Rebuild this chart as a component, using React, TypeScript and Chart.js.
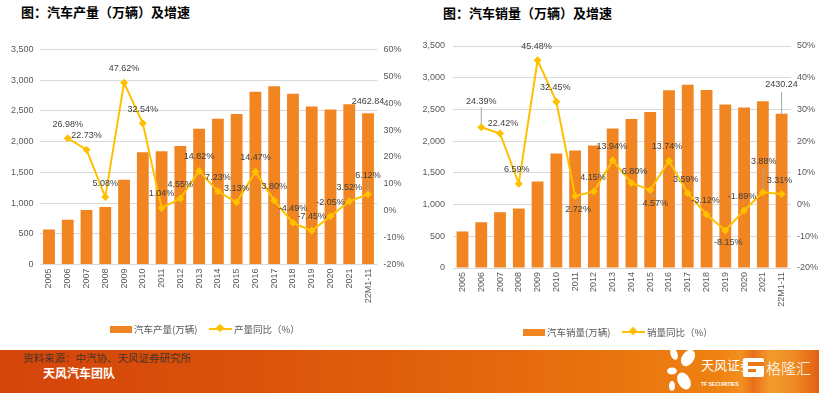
import React, { useEffect, useRef } from "react";
import { Chart, registerables } from "chart.js";

Chart.register(...registerables);

// ---------- data ----------
const categories = [
  "2005", "2006", "2007", "2008", "2009", "2010", "2011", "2012", "2013",
  "2014", "2015", "2016", "2017", "2018", "2019", "2020", "2021", "22M1-11",
];

const productionVolume = [
  570.77, 727.89, 888.89, 934.51, 1379.1, 1826.47, 1841.89, 1927.18, 2211.68,
  2372.29, 2450.33, 2811.88, 2901.54, 2780.92, 2572.07, 2522.52, 2608.2, 2462.84,
];
const productionGrowth = [
  null, 26.98, 22.73, 5.08, 47.62, 32.54, 1.04, 4.55, 14.82,
  7.23, 3.13, 14.47, 3.8, -4.49, -7.45, -2.05, 3.52, 6.12,
];

const salesVolume = [
  575.82, 721.6, 879.15, 938.05, 1364.48, 1806.19, 1850.51, 1930.64, 2198.41,
  2349.19, 2459.76, 2802.82, 2887.89, 2808.06, 2576.87, 2531.1, 2627.5, 2430.24,
];
const salesGrowth = [
  null, 24.39, 22.42, 6.59, 45.48, 32.45, 2.72, 4.15, 13.94,
  6.8, 4.57, 13.74, 3.59, -3.12, -8.15, -1.89, 3.88, 3.31,
];

const volumeTicks = { min: 0, max: 3500, step: 500 };
const productionPctTicks = { min: -20, max: 60, step: 10 };
const salesPctTicks = { min: -20, max: 50, step: 10 };

// label placement (pixel offsets from point) – presentation only
const productionLabelOffsets: [number, number][] = categories.map((_, i) =>
  i === 17 ? [0, -19] : [0, -14]
);
const productionLeaders = [17];
const salesLabelOffsets: [number, number][] = [
  [0, 0], [0, -26], [3, -10], [-2, -14], [-1, -14], [-1, -14], [3, 14], [-1, -14], [-1, -14],
  [3, -11], [5, 13], [-2, -14], [-2, -14], [-1, -14], [3, 12], [-2, -14], [1, -31], [-2, -14],
];
const salesLeaders = [1, 6, 10, 16];

const BAR_COLOR = "#F08522";
const LINE_COLOR = "#FFC000";
const TEXT_COLOR = "#595959";
const LABEL_COLOR = "#404040";
const GRID_COLOR = "#D9D9D9";
const NUM_FONT = "'Liberation Sans', Arial, sans-serif";
const CJK_FONT = "'Noto Sans CJK SC', 'Noto Sans', sans-serif";

const labelPlugin = {
  id: "valueLabels",
  afterDatasetsDraw(chart: any, _args: any, opts: any) {
    const { ctx } = chart;
    const barMeta = chart.getDatasetMeta(0);
    const lineMeta = chart.getDatasetMeta(1);
    ctx.save();
    ctx.font = `9px ${NUM_FONT}`;
    ctx.textAlign = "center";
    ctx.textBaseline = "middle";
    ctx.strokeStyle = "#A6A6A6";
    ctx.lineWidth = 1;
    (opts.growth as (number | null)[]).forEach((v, i) => {
      if (v == null) return;
      const pt = lineMeta.data[i];
      const [dx, dy] = opts.offsets[i];
      const lx = pt.x + dx;
      const ly = pt.y + dy;
      if (opts.leaders.includes(i)) {
        const s = dy < 0 ? 1 : -1;
        ctx.beginPath();
        ctx.moveTo(lx, ly + s * 6);
        ctx.lineTo(pt.x, pt.y - s * 3);
        ctx.stroke();
      }
      ctx.fillStyle = LABEL_COLOR;
      ctx.fillText(v.toFixed(2) + "%", lx, ly);
    });
    const last = opts.volume.length - 1;
    const bar = barMeta.data[last];
    const bx = bar.x;
    const by = bar.y + opts.barOffset;
    if (opts.barLeader) {
      ctx.beginPath();
      ctx.moveTo(bx, by + 7);
      ctx.lineTo(bx, bar.y);
      ctx.stroke();
    }
    ctx.fillStyle = LABEL_COLOR;
    ctx.fillText(opts.volume[last].toFixed(2), bx, by);
    ctx.restore();
  },
};

type ComboProps = {
  width: number;
  height: number;
  volume: number[];
  growth: (number | null)[];
  pct: { min: number; max: number; step: number };
  leftWidth: number;
  rightWidth: number;
  padTop: number;
  padBottom: number;
  leftTickPad: number;
  offsets: [number, number][];
  leaders: number[];
  barOffset: number;
  barLeader: boolean;
};

function ComboChart(p: ComboProps) {
  const ref = useRef<HTMLCanvasElement | null>(null);
  useEffect(() => {
    if (!ref.current) return;
    const tickFont = { family: NUM_FONT, size: 9 };
    const chart = new Chart(ref.current, {
      type: "bar",
      data: {
        labels: categories,
        datasets: [
          {
            type: "bar",
            data: p.volume,
            backgroundColor: BAR_COLOR,
            yAxisID: "y",
            order: 1,
            categoryPercentage: 1,
            barPercentage: 0.63,
          } as any,
          {
            type: "line",
            data: p.growth,
            borderColor: LINE_COLOR,
            backgroundColor: LINE_COLOR,
            borderWidth: 2,
            pointStyle: "rectRot",
            pointRadius: 4,
            pointBorderWidth: 0,
            yAxisID: "y1",
            order: 0,
            tension: 0,
          } as any,
        ],
      },
      options: {
        responsive: false,
        animation: false,
        devicePixelRatio: 1,
        layout: { padding: { top: p.padTop, bottom: p.padBottom, left: 0, right: 0 } },
        plugins: {
          legend: { display: false },
          tooltip: { enabled: false },
          valueLabels: {
            growth: p.growth,
            volume: p.volume,
            offsets: p.offsets,
            leaders: p.leaders,
            barOffset: p.barOffset,
            barLeader: p.barLeader,
          },
        } as any,
        scales: {
          x: {
            grid: { display: false, drawTicks: false },
            border: { display: false },
            ticks: {
              autoSkip: false,
              maxRotation: 90,
              minRotation: 90,
              padding: 4,
              color: TEXT_COLOR,
              font: tickFont,
            },
            afterFit: (s: any) => {
              s.height = 50;
            },
          },
          y: {
            position: "left",
            min: volumeTicks.min,
            max: volumeTicks.max,
            grid: { color: GRID_COLOR, drawTicks: false, lineWidth: 1 },
            border: { display: false },
            ticks: {
              stepSize: volumeTicks.step,
              padding: p.leftTickPad,
              color: TEXT_COLOR,
              font: tickFont,
              callback: (v: any) => Number(v).toLocaleString("en-US"),
            },
            afterFit: (s: any) => {
              s.width = p.leftWidth;
            },
          },
          y1: {
            position: "right",
            min: p.pct.min,
            max: p.pct.max,
            grid: { display: false, drawTicks: false },
            border: { display: false },
            ticks: {
              stepSize: p.pct.step,
              padding: 6,
              color: TEXT_COLOR,
              font: tickFont,
              callback: (v: any) => `${v}%`,
            },
            afterFit: (s: any) => {
              s.width = p.rightWidth;
            },
          },
        },
      } as any,
      plugins: [labelPlugin as any],
    });
    return () => chart.destroy();
  }, []);
  return (
    <canvas
      ref={ref}
      width={p.width}
      height={p.height}
      style={{ width: p.width, height: p.height, display: "block" }}
    />
  );
}

const abs = (l: number, t: number, extra: React.CSSProperties = {}): React.CSSProperties => ({
  position: "absolute",
  left: l,
  top: t,
  whiteSpace: "nowrap",
  ...extra,
});

function Legend({ x, y, barText, lineText }: { x: number; y: number; barText: string; lineText: string }) {
  const textStyle: React.CSSProperties = {
    fontFamily: CJK_FONT,
    fontSize: 9.5,
    lineHeight: "12px",
    color: TEXT_COLOR,
  };
  return (
    <>
      <div style={abs(x, y - 3.5, { width: 22, height: 7, background: BAR_COLOR })} />
      <div style={abs(x + 24, y - 6, textStyle)}>{barText}</div>
      <div style={abs(x + 99, y - 1, { width: 23, height: 2, background: LINE_COLOR })} />
      <div
        style={abs(x + 106.5, y - 4, {
          width: 6,
          height: 6,
          background: LINE_COLOR,
          transform: "rotate(45deg)",
        })}
      />
      <div style={abs(x + 124, y - 6, textStyle)}>{lineText}</div>
    </>
  );
}

export default function App() {
  const titleStyle: React.CSSProperties = {
    fontFamily: CJK_FONT,
    fontWeight: 700,
    fontSize: 13,
    lineHeight: "14px",
    color: "#000",
  };
  return (
    <div
      style={{
        position: "absolute",
        left: 0,
        top: 0,
        width: 819,
        height: 393,
        background: "#fff",
        overflow: "hidden",
      }}
    >
      <div style={abs(21, 5, titleStyle)}>图：汽车产量（万辆）及增速</div>
      <div style={abs(443, 5.5, titleStyle)}>图：汽车销量（万辆）及增速</div>

      <div style={abs(0, 0)}>
        <ComboChart
          width={410}
          height={345}
          volume={productionVolume}
          growth={productionGrowth}
          pct={productionPctTicks}
          leftWidth={39.6}
          rightWidth={32.6}
          padTop={49.5}
          padBottom={30.5}
          leftTickPad={6}
          offsets={productionLabelOffsets}
          leaders={productionLeaders}
          barOffset={-12}
          barLeader={false}
        />
      </div>
      <div style={abs(410, 0)}>
        <ComboChart
          width={409}
          height={345}
          volume={salesVolume}
          growth={salesGrowth}
          pct={salesPctTicks}
          leftWidth={43.1}
          rightWidth={28}
          padTop={46}
          padBottom={27}
          leftTickPad={8}
          offsets={salesLabelOffsets}
          leaders={salesLeaders}
          barOffset={-29}
          barLeader={true}
        />
      </div>

      <Legend x={110} y={329} barText="汽车产量(万辆)" lineText="产量同比（%）" />
      <Legend x={523} y={332} barText="汽车销量(万辆)" lineText="销量同比（%）" />

      {/* footer band */}
      <div
        style={abs(0, 350, {
          width: 819,
          height: 43,
          background:
            "linear-gradient(90deg, #D4450A 0%, #DA520B 30%, #E0600C 50%, #E86F0D 70%, #EE8212 88%, #F29020 90.5%, #E8701A 92%, #F39A2A 94%, #EE8A22 97%, #E26012 100%)",
        })}
      />
      <div
        style={abs(23, 351, {
          fontFamily: CJK_FONT,
          fontSize: 10.5,
          lineHeight: "14px",
          color: "#4A3426",
        })}
      >
        资料来源：中汽协、天风证券研究所
      </div>
      <div
        style={abs(43, 366, {
          fontFamily: CJK_FONT,
          fontSize: 12,
          fontWeight: 700,
          lineHeight: "14px",
          color: "#fff",
        })}
      >
        天风汽车团队
      </div>

      {/* logos */}
      <svg style={abs(666, 346)} width={34} height={47} viewBox="0 0 34 47">
        <ellipse cx={8} cy={8} rx={3.5} ry={6} fill="#fff" transform="rotate(-20 8 8)" />
        <ellipse cx={22} cy={12} rx={6} ry={9} fill="#fff" transform="rotate(35 22 12)" />
        <ellipse cx={6} cy={25} rx={5} ry={3.5} fill="#fff" />
        <ellipse cx={18} cy={35} rx={6} ry={9} fill="#fff" transform="rotate(-30 18 35)" />
        <ellipse cx={6} cy={40} rx={3} ry={5} fill="#fff" />
      </svg>
      <div
        style={abs(701, 358, {
          fontFamily: CJK_FONT,
          fontSize: 13,
          lineHeight: "14px",
          color: "#fff",
        })}
      >
        天风证券
      </div>
      <div
        style={abs(701, 381, {
          fontFamily: NUM_FONT,
          fontSize: 5,
          fontWeight: 700,
          lineHeight: "6px",
          color: "#fff",
        })}
      >
        TF SECURITIES
      </div>
      <svg style={abs(743, 358)} width={21} height={19} viewBox="0 0 21 19">
        <rect x={0} y={0} width={21} height={19} rx={2} fill="#fff" />
        <rect x={5} y={4} width={16} height={4} fill="#E87A14" />
        <rect x={5} y={11} width={8} height={3} fill="#E87A14" />
      </svg>
      <div
        style={abs(766, 359, {
          fontFamily: CJK_FONT,
          fontSize: 15,
          fontWeight: 300,
          lineHeight: "17px",
          color: "#fff",
        })}
      >
        格隆汇
      </div>
    </div>
  );
}
